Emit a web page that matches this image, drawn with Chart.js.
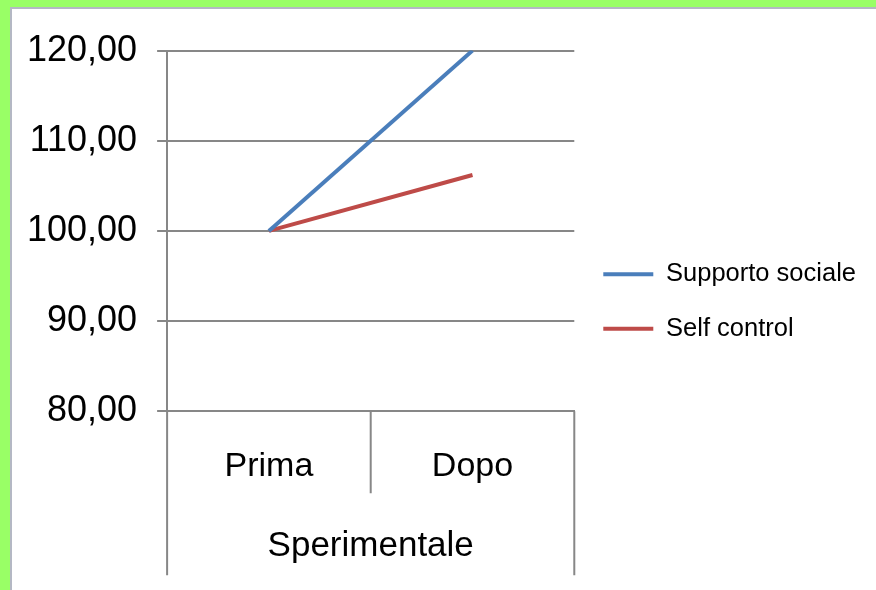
<!DOCTYPE html>
<html>
<head>
<meta charset="utf-8">
<script src="https://cdn.jsdelivr.net/npm/chart.js@4.4.1/dist/chart.umd.min.js"></script>
<style>
  html, body { margin: 0; padding: 0; }
  body { width: 876px; height: 590px; background: #99ff66; position: relative; overflow: hidden; }
  #frame { position: absolute; left: 10px; top: 7px; right: 0; bottom: 0; background: #fff; border-left: 2px solid #b4b8c4; border-top: 2px solid #b4b8c4; }
  #wrap { position: absolute; left: 0; top: 0; width: 864px; height: 581px; }
</style>
</head>
<body>
<div id="frame"><div id="wrap"><canvas id="chart"></canvas></div></div>
<script>
const categorie = ['Prima', 'Dopo'];
const gruppo = 'Sperimentale';
const supportoSociale = [100, 120];
const selfControl = [100, 106.2];
const tickValori = [80, 90, 100, 110, 120];

const FONT = '"Liberation Sans", Arial, sans-serif';
const GRIGIO = '#878787';

// separatori dell'asse categorie sotto l'area del grafico
const separatori = {
    id: 'separatori',
    afterDraw(chart) {
        const { ctx, chartArea } = chart;
        const x = chart.scales.x;
        const y0 = chartArea.bottom;
        ctx.save();
        ctx.strokeStyle = GRIGIO;
        ctx.lineWidth = 2;
        ctx.beginPath();
        // bordi esterni, fino in fondo
        ctx.moveTo(chartArea.left, y0);
        ctx.lineTo(chartArea.left, y0 + 164);
        ctx.moveTo(chartArea.right, y0);
        ctx.lineTo(chartArea.right, y0 + 164);
        // tra una categoria e l'altra, solo sotto le etichette
        for (let i = 1; i < categorie.length; i++) {
            const xm = (x.getPixelForTick(i - 1) + x.getPixelForTick(i)) / 2;
            ctx.moveTo(xm, y0);
            ctx.lineTo(xm, y0 + 82);
        }
        ctx.stroke();
        ctx.restore();
    }
};

new Chart(document.getElementById('chart'), {
    type: 'line',
    data: {
        labels: categorie,
        datasets: [
            {
                label: 'Supporto sociale',
                data: supportoSociale,
                borderColor: '#4a7ebb',
                backgroundColor: '#4a7ebb',
                borderWidth: 4,
                pointRadius: 0,
                tension: 0
            },
            {
                label: 'Self control',
                data: selfControl,
                borderColor: '#be4b48',
                backgroundColor: '#be4b48',
                borderWidth: 4,
                pointRadius: 0,
                tension: 0
            }
        ]
    },
    options: {
        responsive: true,
        maintainAspectRatio: false,
        animation: false,
        layout: { padding: { left: -5, top: 10, right: 10, bottom: 6 } },
        plugins: {
            tooltip: { enabled: false },
            legend: {
                position: 'right',
                maxWidth: 303,
                labels: {
                    color: '#000',
                    font: { family: FONT, size: 25.5 },
                    usePointStyle: true,
                    pointStyle: 'line',
                    pointStyleWidth: 50,
                    padding: 29
                }
            }
        },
        scales: {
            x: {
                offset: true,
                grid: { display: false },
                border: { display: true, color: GRIGIO, width: 2 },
                ticks: {
                    color: '#000',
                    font: { family: FONT, size: 34 },
                    padding: 27
                },
                title: {
                    display: true,
                    text: gruppo,
                    color: '#000',
                    font: { family: FONT, size: 35 },
                    padding: { top: 11, bottom: 17 }
                }
            },
            y: {
                min: 80,
                max: 120,
                afterBuildTicks: (scale) => { scale.ticks = tickValori.map(v => ({ value: v })); },
                grid: {
                    color: GRIGIO,
                    lineWidth: 2,
                    tickLength: 10
                },
                border: { display: true, color: GRIGIO, width: 2 },
                ticks: {
                    color: '#000',
                    font: { family: FONT, size: 36 },
                    padding: 20,
                    callback: (v) => v.toFixed(2).replace('.', ',')
                }
            }
        }
    },
    plugins: [separatori]
});
</script>
</body>
</html>
